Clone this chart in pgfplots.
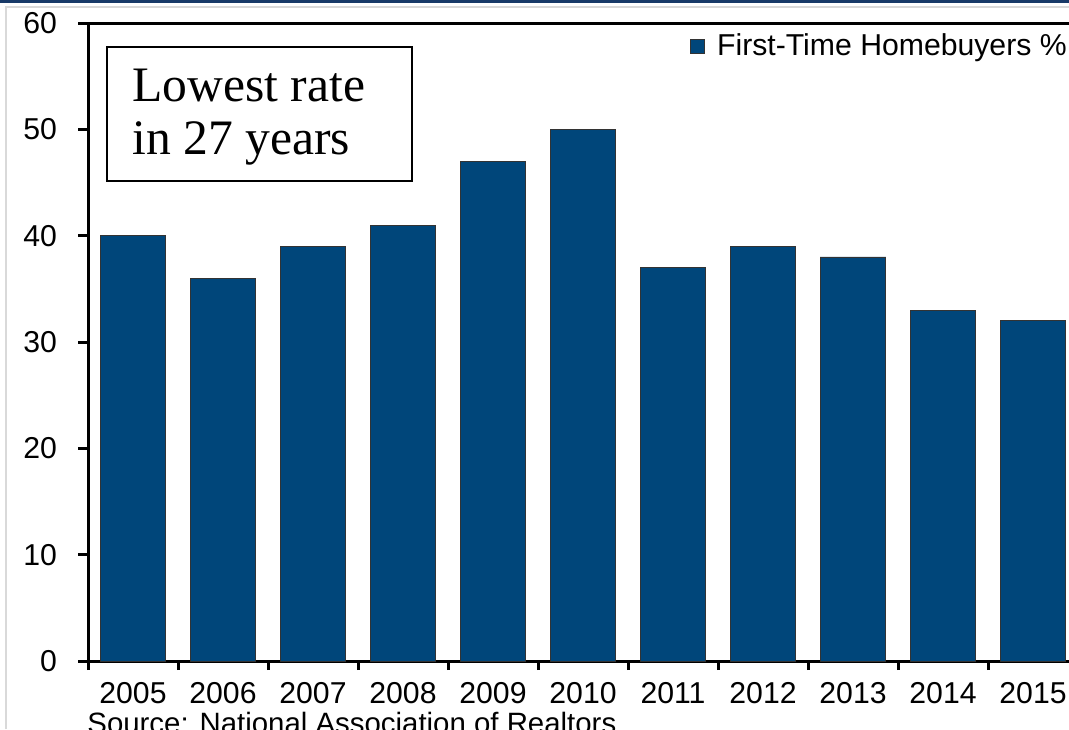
\documentclass[border=0pt]{standalone}
\usepackage{pgfplots}
\pgfplotsset{compat=1.18}
\usepackage{fontspec}
\setmainfont{Liberation Sans}
\newfontfamily\boxfont{Liberation Serif}
\definecolor{barblue}{RGB}{0,70,122}
\definecolor{topnavy}{RGB}{24,58,104}
\begin{document}
\begin{tikzpicture}
\path[use as bounding box] (0pt,0pt) rectangle (534.5pt,364.5pt);
\fill[topnavy] (0pt,363pt) rectangle (534.5pt,364.5pt);
\draw[black!15, line width=0.6pt] (3pt,0pt) -- (3pt,361pt) -- (534.5pt,361pt);
\begin{axis}[
  at={(44pt,34pt)}, anchor=south west,
  width=495pt, height=319pt, scale only axis,
  xmin=-0.5, xmax=10.5, ymin=0, ymax=60,
  ytick={0,10,...,60},
  yticklabel={\pgfmathprintnumber{\tick}\hspace*{7pt}},
  xtick={0,...,10},
  xticklabels={2005,2006,2007,2008,2009,2010,2011,2012,2013,2014,2015},
  minor xtick={-0.5,0.5,...,10.5},
  major x tick style={draw=none},
  tick pos=left,
  tick align=outside,
  major tick length=5pt,
  minor tick length=4.5pt,
  tick style={line width=1.5pt, black},
  axis line style={line width=1.5pt},
  /pgf/number format/assume math mode=true,
  tick label style={font=\fontsize{15.1}{17}\selectfont},
  xticklabel shift=2pt,
  ybar, bar width=0.73,
  legend style={draw=none, fill=none, at={(axis description cs:0.608,0.964)}, anchor=west,
    font=\fontsize{15.1}{17}\selectfont, inner sep=0pt, column sep=4pt},
  legend image code/.code={\draw[#1] (0pt,-3.5pt) rectangle (7pt,3.5pt);},
]
\addplot[fill=barblue, draw=black!80, line width=0.4pt] coordinates {
(0,40) (1,36) (2,39) (3,41) (4,47) (5,50) (6,37) (7,39) (8,38) (9,33) (10,32)};
\addlegendentry{First-Time Homebuyers \%}
\end{axis}
\draw[black, line width=0.75pt] (53.5pt,274pt) rectangle (206pt,341pt);
\node[anchor=base west, inner sep=0pt, font=\boxfont\fontsize{24.8}{26.5}\selectfont] at (66pt,313.5pt) {Lowest rate};
\node[anchor=base west, inner sep=0pt, font=\boxfont\fontsize{24.8}{26.5}\selectfont] at (66pt,287pt) {in 27 years};
\node[anchor=base west, inner sep=0pt, font=\fontsize{14.7}{17}\selectfont] at (43.5pt,-2pt) {Source: National Association of Realtors};
\end{tikzpicture}
\end{document}
